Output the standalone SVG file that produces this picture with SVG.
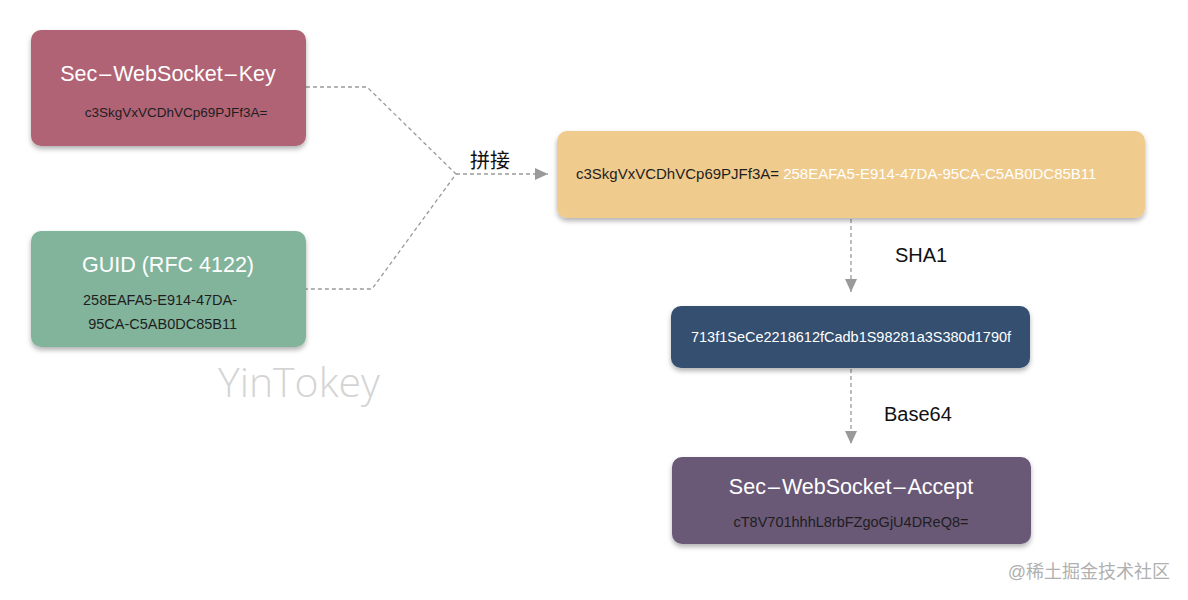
<svg xmlns="http://www.w3.org/2000/svg" width="1188" height="600" viewBox="0 0 1188 600">
<defs>
<filter id="sh" x="-10%" y="-20%" width="120%" height="150%">
<feDropShadow dx="0" dy="3" stdDeviation="2.5" flood-color="#000" flood-opacity="0.3"/>
</filter>
<marker id="ah" markerWidth="14" markerHeight="12" refX="13" refY="6" orient="auto" markerUnits="userSpaceOnUse">
<path d="M0,0 L13,6 L0,12 Z" fill="#9a9a9a"/>
</marker>
<style>
.box{filter:url(#sh)}
.t{font-family:"Liberation Sans","Noto Sans CJK SC",sans-serif}
.title{font-size:21.5px;fill:#fff;text-anchor:middle}
.sub{font-size:13.5px;fill:#1e1e1e;text-anchor:middle}
.lbl{font-size:20px;fill:#111}
.con{fill:none;stroke:#9a9a9a;stroke-width:1.3;stroke-dasharray:4 3}
</style>
</defs>
<rect width="1188" height="600" fill="#fff"/>
<g id="connectors">
<path class="con" d="M306,87 L367,87 L456,174 L372,289 L306,289"/>
<path class="con" d="M456,174 L548,174" marker-end="url(#ah)"/>
<path class="con" d="M851,219 L851,292" marker-end="url(#ah)"/>
<path class="con" d="M851,369 L851,444" marker-end="url(#ah)"/>
<text class="t lbl" x="470" y="168" font-size="17.5">拼接</text>
<text class="t lbl" x="895" y="262">SHA1</text>
<text class="t lbl" x="884" y="421" font-size="21.5">Base64</text>
</g>
<g id="key">
<rect class="box" x="31" y="30" width="275" height="116" rx="10" fill="#b06374"/>
<text class="t title" x="168" y="81">Sec<tspan dx="2">–</tspan><tspan dx="2">WebSocket</tspan><tspan dx="2">–</tspan><tspan dx="2">Key</tspan></text>
<text class="t sub" x="176" y="117">c3SkgVxVCDhVCp69PJFf3A=</text>
</g>
<g id="guid">
<rect class="box" x="31" y="231" width="275" height="116" rx="10" fill="#82b49c"/>
<text class="t title" x="168" y="272">GUID (RFC 4122)</text>
<text class="t sub" x="237" y="305" style="text-anchor:end;font-size:14.5px">258EAFA5-E914-47DA-</text>
<text class="t sub" x="237" y="329" style="text-anchor:end;font-size:14.5px">95CA-C5AB0DC85B11</text>
</g>
<g id="concat">
<rect class="box" x="557" y="131" width="588" height="87" rx="10" fill="#f0cb8e"/>
<text class="t" x="576" y="179" font-size="15" fill="#1e1e1e">c3SkgVxVCDhVCp69PJFf3A= <tspan fill="#fff">258EAFA5-E914-47DA-95CA-C5AB0DC85B11</tspan></text>
</g>
<g id="sha1">
<rect class="box" x="671" y="306" width="359" height="62" rx="10" fill="#34506f"/>
<text class="t" x="851" y="342" font-size="14.5" fill="#fff" text-anchor="middle">713f1SeCe2218612fCadb1S98281a3S380d1790f</text>
</g>
<g id="accept">
<rect class="box" x="672" y="457" width="359" height="87" rx="10" fill="#6a5977"/>
<text class="t title" x="851" y="494">Sec<tspan dx="2">–</tspan><tspan dx="2">WebSocket</tspan><tspan dx="2">–</tspan><tspan dx="2">Accept</tspan></text>
<text class="t sub" x="851" y="527" style="font-size:14.5px">cT8V701hhhL8rbFZgoGjU4DReQ8=</text>
</g>
<text x="218" y="397" font-family="'Open Sans',sans-serif" font-weight="300" font-size="41" fill="#d4d4d4">YinTokey</text>
<text x="1170" y="578" font-family="'Liberation Sans','Noto Sans CJK SC',sans-serif" font-size="18" fill="#b0b0b0" text-anchor="end">@稀土掘金技术社区</text>
</svg>
